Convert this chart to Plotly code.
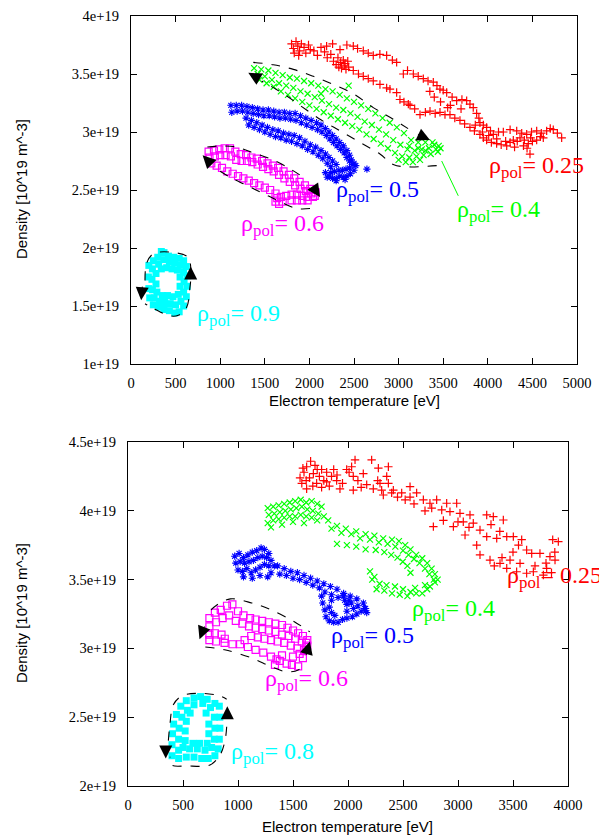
import plotly.graph_objects as go

# ---------------- tick labels ----------------
top_x_ticks = [0, 500, 1000, 1500, 2000, 2500, 3000, 3500, 4000, 4500, 5000]
top_y_tickvals = [1.0, 1.5, 2.0, 2.5, 3.0, 3.5, 4.0]
top_y_ticktext = ["1e+19", "1.5e+19", "2e+19", "2.5e+19", "3e+19", "3.5e+19", "4e+19"]
bot_x_ticks = [0, 500, 1000, 1500, 2000, 2500, 3000, 3500, 4000]
bot_y_tickvals = [2.0, 2.5, 3.0, 3.5, 4.0, 4.5]
bot_y_ticktext = ["2e+19", "2.5e+19", "3e+19", "3.5e+19", "4e+19", "4.5e+19"]

# ---------------- TOP PANEL data: (Te [eV], n [1e19 m^-3]) ----------------
top_red = [
    (1800, 3.76), (1820, 3.72), (1850, 3.78), (1870, 3.74), (1890, 3.70), (1910, 3.76), (1940, 3.73),
    (1960, 3.68), (1990, 3.75), (2010, 3.71), (1830, 3.68), (1880, 3.66), (2050, 3.70), (2090, 3.66),
    (2130, 3.73), (2170, 3.69), (2200, 3.64), (2240, 3.67), (2270, 3.61), (2300, 3.58), (2330, 3.56),
    (2360, 3.55), (2390, 3.57), (2410, 3.54), (2440, 3.56), (2350, 3.60), (2380, 3.62), (2400, 3.59),
    (2430, 3.61), (2320, 3.64),
    (2193, 3.74), (2260, 3.76), (2343, 3.71), (2420, 3.75), (2492, 3.74), (2540, 3.72), (2604, 3.70),
    (2660, 3.68), (2716, 3.66), (2790, 3.67), (2866, 3.66), (2930, 3.62), (2978, 3.60), (3053, 3.50),
    (3100, 3.53), (3165, 3.50), (3220, 3.48), (3277, 3.46), (3330, 3.44), (3389, 3.43), (3430, 3.40),
    (3464, 3.37), (3500, 3.36), (3539, 3.34), (3600, 3.30), (3651, 3.27), (3710, 3.28), (3763, 3.27),
    (3800, 3.24), (3837, 3.21), (3875, 3.16), (3900, 3.12), (3912, 3.08), (3950, 3.06), (3987, 3.04),
    (4030, 3.01), (4062, 2.98), (4120, 3.00), (4174, 3.00), (4250, 3.02), (4324, 3.01), (4380, 2.99),
    (4436, 2.98), (4490, 3.00), (4548, 3.01), (4600, 2.99), (4660, 3.01), (4700, 3.03), (4734, 3.02),
    (4780, 2.99), (4828, 2.95),
    (2492, 3.53), (2550, 3.50), (2604, 3.48), (2660, 3.46), (2716, 3.44), (2791, 3.41), (2866, 3.38),
    (2903, 3.37), (2978, 3.34), (3015, 3.28), (3060, 3.26), (3109, 3.24), (3128, 3.23), (3180, 3.20),
    (3240, 3.15), (3300, 3.17), (3352, 3.18), (3410, 3.16), (3464, 3.17), (3520, 3.15), (3576, 3.15),
    (3630, 3.12), (3688, 3.10), (3740, 3.07), (3800, 3.04), (3850, 3.01), (3912, 2.98), (3950, 2.95),
    (3987, 2.93), (4040, 2.91), (4099, 2.90), (4150, 2.89), (4212, 2.88), (4250, 2.91), (4286, 2.93),
    (4330, 2.92), (4361, 2.95), (4410, 2.93), (4454, 2.90), (4473, 2.81), (4500, 2.92), (4548, 2.93),
    (4590, 2.96), (4622, 2.95), (4300, 2.87), (4400, 2.88), (4200, 2.92), (4100, 2.94), (4480, 2.95),
    (4440, 2.86), (3860, 3.06), (3940, 3.00), (4010, 2.97), (3700, 3.20), (3580, 3.23), (3400, 3.30),
    (3350, 3.35), (3470, 3.26), (3550, 3.21),
]

top_green = [
    (1380, 3.55), (1460, 3.54), (1540, 3.53), (1620, 3.51), (1700, 3.49), (1780, 3.47), (1860, 3.46),
    (1940, 3.44), (2020, 3.42), (2100, 3.40), (2180, 3.37), (2260, 3.35), (2340, 3.32), (2420, 3.29),
    (2500, 3.26), (2580, 3.23), (2660, 3.20), (2740, 3.16), (2820, 3.12), (2900, 3.08), (2980, 3.04),
    (3060, 2.99), (3140, 2.93), (3220, 2.91), (3300, 2.91), (3380, 2.91), (3450, 2.88),
    (1420, 3.50), (1500, 3.48), (1580, 3.45), (1660, 3.42), (1740, 3.40), (1820, 3.38), (1900, 3.35),
    (1980, 3.33), (2060, 3.30), (2140, 3.27), (2220, 3.24), (2300, 3.21), (2380, 3.19), (2460, 3.16),
    (2540, 3.13), (2620, 3.09), (2700, 3.06), (2780, 3.02), (2860, 2.98), (2940, 2.93), (3020, 2.89),
    (3100, 2.85), (3180, 2.84), (3260, 2.85), (3340, 2.86), (3420, 2.85),
    (1440, 3.45), (1520, 3.42), (1600, 3.39), (1680, 3.35), (1760, 3.32), (1840, 3.29), (1920, 3.26),
    (2000, 3.23), (2080, 3.20), (2160, 3.17), (2240, 3.14), (2320, 3.11), (2400, 3.08), (2480, 3.05),
    (2560, 3.02), (2640, 2.98), (2720, 2.94), (2800, 2.90), (2880, 2.86), (2960, 2.82), (3040, 2.79),
    (3120, 2.78), (3200, 2.79), (3280, 2.80), (3360, 2.81), (3440, 2.83),
    (2440, 3.40), (2130, 3.33), (3470, 2.86), (3000, 2.76), (3080, 2.74), (3160, 2.74), (3240, 2.76),
    (3300, 2.84), (3400, 2.89), (3120, 2.88), (3220, 2.86),
]

top_blue = [
    (1120, 3.23), (1180, 3.23), (1240, 3.23), (1300, 3.22), (1360, 3.21), (1420, 3.20), (1480, 3.19),
    (1540, 3.19), (1600, 3.18), (1660, 3.17), (1720, 3.17), (1780, 3.16), (1840, 3.16), (1900, 3.14),
    (1960, 3.12), (2020, 3.10), (2080, 3.08), (2130, 3.06), (2180, 3.03), (2220, 3.00), (2260, 2.97),
    (2300, 2.94), (2340, 2.91), (2380, 2.88), (2420, 2.84), (2450, 2.80), (2470, 2.76), (2500, 2.73),
    (1130, 3.17), (1190, 3.18), (1250, 3.18), (1310, 3.17), (1370, 3.16), (1430, 3.15), (1490, 3.14),
    (1550, 3.14), (1610, 3.13), (1670, 3.12), (1730, 3.12), (1790, 3.11), (1850, 3.10), (1910, 3.08),
    (1970, 3.06), (2030, 3.04), (2090, 3.02), (2140, 3.00), (2190, 2.97), (2230, 2.94), (2270, 2.91),
    (2310, 2.88), (2350, 2.85), (2390, 2.82), (2420, 2.78), (2450, 2.75),
    (1290, 3.12), (1350, 3.10), (1410, 3.08), (1470, 3.06), (1530, 3.04), (1590, 3.02), (1650, 3.01),
    (1710, 2.99), (1770, 2.98), (1830, 2.97), (1890, 2.95), (1950, 2.92), (2010, 2.89), (2070, 2.87),
    (2130, 2.84), (2180, 2.81), (2220, 2.78), (2260, 2.75), (2300, 2.72),
    (1320, 3.06), (1380, 3.04), (1440, 3.02), (1500, 3.00), (1560, 2.98), (1620, 2.96), (1680, 2.95),
    (1740, 2.93), (1800, 2.92), (1860, 2.90), (1920, 2.88), (1980, 2.85), (2040, 2.83), (2100, 2.80),
    (2150, 2.77), (2200, 2.73), (2240, 2.70),
    (2180, 2.65), (2220, 2.62), (2260, 2.60), (2300, 2.60), (2340, 2.62), (2380, 2.61), (2420, 2.62),
    (2460, 2.64), (2500, 2.67), (2520, 2.71), (2280, 2.66), (2330, 2.67), (2370, 2.67), (2410, 2.68),
    (2450, 2.69), (2480, 2.72), (2240, 2.65), (2200, 2.61), (2300, 2.58), (2400, 2.59), (2645, 2.68),
]

top_magenta = [
    (870, 2.83), (930, 2.84), (990, 2.85), (1050, 2.86), (1110, 2.86), (1170, 2.83), (1230, 2.81),
    (1290, 2.80), (1350, 2.78), (1410, 2.77), (1470, 2.75), (1530, 2.73), (1590, 2.71), (1650, 2.69),
    (1710, 2.66), (1770, 2.63), (1830, 2.60), (1890, 2.57), (1950, 2.54), (2010, 2.51), (2070, 2.48),
    (880, 2.78), (940, 2.79), (1000, 2.80), (1060, 2.80), (1120, 2.79), (1180, 2.76), (1240, 2.75),
    (1300, 2.75), (1360, 2.74), (1420, 2.72), (1480, 2.70), (1540, 2.68), (1600, 2.66), (1660, 2.63),
    (1720, 2.60), (1780, 2.57), (1840, 2.54), (1900, 2.51), (1960, 2.49), (2020, 2.47),
    (900, 2.73), (960, 2.71), (1020, 2.69), (1080, 2.66), (1140, 2.64), (1200, 2.62), (1260, 2.60),
    (1320, 2.58), (1380, 2.56), (1440, 2.54), (1500, 2.52), (1560, 2.50), (1620, 2.47), (1680, 2.44),
    (1740, 2.45), (1800, 2.46), (1860, 2.46), (1920, 2.45), (1980, 2.44), (2040, 2.44),
    (1620, 2.40), (1660, 2.38), (1700, 2.40), (1640, 2.43), (1800, 2.41), (1860, 2.41), (1920, 2.41),
    (1980, 2.41), (2060, 2.45),
]

top_cyan = [
    (200, 1.85), (195, 1.75), (200, 1.65), (210, 1.57), (250, 1.51), (310, 1.49), (370, 1.47),
    (430, 1.46), (490, 1.44), (540, 1.45), (590, 1.50), (620, 1.58), (630, 1.67), (630, 1.76),
    (620, 1.84), (590, 1.89), (540, 1.91), (480, 1.92), (420, 1.93), (370, 1.96), (340, 1.97),
    (300, 1.92), (250, 1.89),
    (240, 1.82), (235, 1.73), (240, 1.64), (260, 1.57), (320, 1.54), (380, 1.53), (440, 1.52),
    (500, 1.51), (560, 1.54), (590, 1.62), (595, 1.71), (590, 1.79), (550, 1.85), (490, 1.87),
    (430, 1.88), (370, 1.90), (310, 1.86),
    (280, 1.78), (280, 1.69), (290, 1.62), (350, 1.59), (410, 1.59), (470, 1.58), (530, 1.60),
    (550, 1.67), (550, 1.75), (520, 1.81), (460, 1.82), (400, 1.83), (340, 1.82),
]

# dashed guide loops (top)
top_green_loop_upper = [(1371, 3.60), (1595, 3.58), (1820, 3.54), (2044, 3.48), (2268, 3.41),
                        (2492, 3.33), (2716, 3.21), (2940, 3.11), (3165, 3.00)]
top_green_loop_lower = [(3427, 2.71), (3090, 2.70), (2940, 2.72), (2791, 2.81), (2567, 2.91),
                        (2343, 3.01), (2119, 3.11), (1894, 3.23), (1708, 3.33), (1465, 3.44)]
top_magenta_loop_upper = [(856, 2.87), (998, 2.88), (1185, 2.87), (1371, 2.82), (1558, 2.77),
                          (1745, 2.70), (1932, 2.61)]
top_magenta_loop_lower = [(2007, 2.34), (1857, 2.34), (1670, 2.40), (1483, 2.47), (1297, 2.54),
                          (1110, 2.61), (923, 2.70)]
top_cyan_loop = [(157, 1.72), (176, 1.87), (250, 1.95), (437, 1.965), (642, 1.92), (669, 1.84),
                 (669, 1.72), (661, 1.66), (624, 1.49), (530, 1.42), (437, 1.415), (250, 1.48),
                 (157, 1.52)]
top_arrows = [  # (tail Te, tail n, tip Te, tip n)
    (3200, 2.985, 3352, 2.93),
    (1420, 3.465, 1315, 3.51),
    (2040, 2.53, 2119, 2.44),
    (880, 2.74, 803, 2.80),
    (669, 1.74, 669, 1.84),
    (128, 1.68, 114, 1.55),
]
top_green_leader = [(3483, 2.75), (3669, 2.45)]

# ---------------- BOTTOM PANEL data ----------------
bot_red = [
    (1564, 4.24), (1580, 4.20), (1600, 4.28), (1624, 4.32), (1624, 4.16), (1650, 4.24), (1685, 4.27),
    (1700, 4.33), (1715, 4.20), (1740, 4.25), (1760, 4.30), (1780, 4.22), (1806, 4.28), (1806, 4.21),
    (1830, 4.18), (1590, 4.31), (1660, 4.36), (1720, 4.30), (1620, 4.22), (1680, 4.18), (1850, 4.25),
    (1870, 4.30), (1897, 4.22), (1927, 4.16), (1950, 4.20), (1988, 4.30), (2010, 4.28), (2033, 4.32),
    (2048, 4.25), (2048, 4.15), (2064, 4.37), (2090, 4.22), (2139, 4.27), (2170, 4.19), (2215, 4.37),
    (2230, 4.16), (2291, 4.20), (2306, 4.15), (2276, 4.31), (2352, 4.25), (2367, 4.32), (2367, 4.20),
    (2397, 4.13), (2321, 4.115), (2412, 4.15), (2488, 4.13), (2564, 4.175), (2564, 4.10), (2624, 4.13),
    (2685, 4.08), (2745, 4.055), (2806, 4.08), (2761, 4.02), (2852, 4.006), (2897, 4.055), (2927, 3.994),
    (2988, 4.055), (3018, 3.982), (3109, 3.97), (3048, 3.92), (2867, 3.93), (2776, 3.885), (2958, 3.885),
    (3139, 3.91), (3200, 3.86), (3261, 3.97), (3321, 3.957), (3412, 3.933), (3261, 3.812), (3352, 3.80),
    (3443, 3.812), (3503, 3.812), (3579, 3.79), (3064, 3.824), (3170, 3.75), (3200, 3.68), (3291, 3.642),
    (3382, 3.618), (3443, 3.582), (3473, 3.642), (3564, 3.618), (3533, 3.557), (3624, 3.546),
    (3685, 3.557), (3776, 3.533), (3806, 3.582), (3836, 3.667), (3882, 3.642), (3861, 3.79),
    (3912, 3.776), (3745, 3.69), (3624, 3.715), (3670, 3.69),
    (2450, 4.10), (2520, 4.08), (2600, 4.05), (2700, 4.00), (3000, 3.92), (3100, 3.88), (3300, 3.90),
    (3380, 3.85), (3500, 3.70), (3700, 3.60), (3800, 3.62), (3850, 3.55), (3880, 3.70), (3400, 3.66),
    (3330, 3.60), (3550, 3.75), (1900, 4.26), (1760, 4.17), (2120, 4.17), (2270, 4.22),
]

bot_green = [
    (1270, 4.02), (1320, 4.03), (1370, 4.04), (1420, 4.05), (1470, 4.06), (1520, 4.07), (1570, 4.08),
    (1620, 4.06), (1670, 4.07), (1720, 4.05), (1760, 4.03),
    (1280, 3.97), (1330, 3.98), (1380, 3.99), (1430, 4.00), (1480, 4.01), (1530, 4.02), (1580, 4.03),
    (1630, 4.01), (1680, 4.00), (1730, 3.98), (1780, 3.96),
    (1270, 3.91), (1320, 3.93), (1370, 3.94), (1420, 3.95), (1470, 3.96), (1520, 3.96), (1570, 3.97),
    (1620, 3.96), (1670, 3.95), (1720, 3.93),
    (1300, 3.88), (1400, 3.90), (1500, 3.92), (1600, 3.91),
    (1820, 3.93), (1900, 3.89), (1980, 3.87), (2075, 3.85), (2160, 3.83), (2240, 3.82), (2320, 3.80),
    (2400, 3.79), (2463, 3.78), (2520, 3.75), (2568, 3.72), (2620, 3.68), (2675, 3.655), (2720, 3.62),
    (2760, 3.58), (2790, 3.54), (2815, 3.50),
    (1850, 3.87), (1940, 3.84), (2030, 3.83), (2110, 3.80), (2200, 3.79), (2280, 3.77), (2360, 3.76),
    (2430, 3.74), (2500, 3.71), (2550, 3.68), (2600, 3.65), (2650, 3.62), (2700, 3.58), (2740, 3.54),
    (2780, 3.50),
    (1900, 3.76), (1990, 3.75), (2075, 3.74), (2160, 3.72), (2252, 3.715), (2330, 3.70), (2393, 3.68),
    (2450, 3.66), (2498, 3.63), (2540, 3.60), (2568, 3.55),
    (2200, 3.56), (2240, 3.52), (2287, 3.47), (2350, 3.46), (2427, 3.45), (2500, 3.43), (2568, 3.41),
    (2620, 3.40), (2675, 3.40), (2720, 3.43), (2745, 3.45), (2790, 3.48), (2260, 3.43), (2330, 3.42),
    (2400, 3.40), (2470, 3.39), (2540, 3.38), (2610, 3.44), (2700, 3.46), (2220, 3.50),
]

bot_blue = [
    (970, 3.67), (1010, 3.69), (1050, 3.66), (1090, 3.68), (1130, 3.70), (1170, 3.71), (1210, 3.73),
    (1240, 3.72), (1280, 3.69),
    (980, 3.62), (1020, 3.63), (1060, 3.62), (1100, 3.63), (1140, 3.64), (1180, 3.66), (1220, 3.67),
    (1260, 3.66), (1300, 3.64),
    (1000, 3.57), (1040, 3.56), (1080, 3.58), (1120, 3.55), (1160, 3.57), (1200, 3.59), (1240, 3.61),
    (1280, 3.60), (1330, 3.60),
    (1050, 3.52), (1130, 3.51), (1200, 3.53), (1270, 3.52), (1300, 3.55),
    (1360, 3.60), (1420, 3.58), (1480, 3.56), (1540, 3.55), (1600, 3.53), (1660, 3.51), (1720, 3.49),
    (1780, 3.47), (1840, 3.45), (1900, 3.43), (1960, 3.40), (2020, 3.38), (2080, 3.36), (2140, 3.33),
    (1380, 3.54), (1440, 3.53), (1500, 3.51), (1560, 3.50), (1620, 3.48), (1680, 3.46), (1740, 3.44),
    (1790, 3.41), (1850, 3.39), (1910, 3.37), (1970, 3.35), (2030, 3.33), (2090, 3.31), (2150, 3.29),
    (1760, 3.38), (1770, 3.33), (1790, 3.28), (1800, 3.23), (1830, 3.20), (1870, 3.19), (1910, 3.19),
    (1950, 3.21), (1990, 3.22), (2040, 3.23), (2080, 3.25), (2120, 3.27), (2160, 3.29), (2170, 3.26),
    (1850, 3.26), (1880, 3.24), (1990, 3.27), (2050, 3.29), (1830, 3.30), (1850, 3.35), (1990, 3.32),
    (2010, 3.35), (1960, 3.38),
]

bot_magenta = [
    (740, 3.22), (790, 3.26), (843, 3.28), (900, 3.31), (949, 3.32), (1000, 3.27), (1050, 3.24),
    (1110, 3.22), (1160, 3.21), (1220, 3.20), (1280, 3.19), (1340, 3.18), (1400, 3.17), (1450, 3.15),
    (1500, 3.13), (1547, 3.11), (1590, 3.09), (1630, 3.06),
    (740, 3.16), (800, 3.19), (860, 3.22), (920, 3.24), (980, 3.20), (1040, 3.18), (1100, 3.16),
    (1160, 3.15), (1220, 3.14), (1280, 3.13), (1340, 3.12), (1400, 3.10), (1460, 3.09), (1520, 3.07),
    (1580, 3.05), (1630, 3.02),
    (740, 3.10), (790, 3.11), (850, 3.10), (1120, 3.09), (1180, 3.08), (1240, 3.07), (1300, 3.06),
    (1360, 3.05), (1420, 3.04), (1480, 3.02), (1540, 3.00), (1600, 2.99),
    (740, 3.06), (800, 3.05), (878, 3.04), (950, 3.03), (1019, 3.03), (1090, 3.01), (1160, 2.99),
    (1230, 2.97), (1300, 2.94), (1336, 2.88), (1380, 2.91), (1442, 2.89), (1490, 2.88), (1547, 2.87),
    (1590, 2.93), (1618, 2.99),
    (1350, 2.92), (1400, 2.95), (1500, 2.94), (1560, 2.96), (1620, 3.04), (880, 3.07), (1060, 3.06),
]

bot_cyan = [
    (400, 2.22), (400, 2.30), (405, 2.38), (415, 2.45), (440, 2.52), (480, 2.58), (530, 2.62),
    (600, 2.64), (660, 2.65), (720, 2.63), (790, 2.60), (830, 2.58), (835, 2.50), (835, 2.42),
    (830, 2.34), (820, 2.27), (790, 2.22), (730, 2.20), (670, 2.20), (600, 2.21), (530, 2.21),
    (460, 2.20),
    (460, 2.26), (460, 2.34), (465, 2.42), (490, 2.50), (540, 2.55), (600, 2.59), (680, 2.60),
    (750, 2.57), (785, 2.50), (790, 2.42), (785, 2.34), (760, 2.28), (700, 2.26), (630, 2.27),
    (560, 2.27), (500, 2.28),
    (520, 2.33), (520, 2.40), (530, 2.47), (565, 2.53), (710, 2.53), (735, 2.45), (735, 2.38),
    (720, 2.31), (650, 2.31), (590, 2.31),
]

bot_magenta_loop_upper = [(755, 3.28), (808, 3.316), (931, 3.36), (1125, 3.33), (1301, 3.28),
                          (1512, 3.194), (1653, 3.12)]
bot_magenta_loop_lower = [(703, 3.01), (878, 2.99), (1125, 2.93), (1301, 2.867), (1442, 2.83),
                          (1547, 2.843), (1600, 2.89)]
bot_cyan_loop_upper = [(367, 2.33), (382, 2.456), (412, 2.59), (488, 2.654), (655, 2.674),
                       (836, 2.654), (897, 2.63)]
bot_cyan_loop_lower = [(897, 2.43), (882, 2.33), (836, 2.225), (745, 2.153), (533, 2.146),
                       (397, 2.153), (382, 2.213)]
bot_arrows = [
    (1615, 2.94, 1653, 3.05),
    (700, 3.17, 650, 3.066),
    (903, 2.48, 903, 2.58),
    (343, 2.29, 343, 2.20),
]

labels_top = [  # (Te, n, value text, color)
    (3991, 2.70, "0.25", "#ff0000"),
    (3632, 2.315, "0.4", "#00ff00"),
    (2276, 2.495, "0.5", "#0000ff"),
    (1211, 2.195, "0.6", "#ff00ff"),
    (717, 1.42, "0.9", "#00ffff"),
]
labels_bot = [
    (3431, 3.52, "0.25", "#ff0000"),
    (2568, 3.28, "0.4", "#00ff00"),
    (1828, 3.08, "0.5", "#0000ff"),
    (1228, 2.77, "0.6", "#ff00ff"),
    (914, 2.24, "0.8", "#00ffff"),
]

# ---------------- figure ----------------
fig = go.Figure()

def add_cloud(pts, xa, ya, symbol, color, size, lw):
    fig.add_trace(go.Scatter(
        x=[p[0] for p in pts], y=[p[1] for p in pts], mode="markers",
        xaxis=xa, yaxis=ya, showlegend=False, hoverinfo="skip",
        marker=dict(symbol=symbol, color=color, size=size,
                    line=dict(color=color, width=lw))))

def add_dashed(pts, xa, ya, color="black", dash="dash", width=1.1):
    fig.add_trace(go.Scatter(
        x=[p[0] for p in pts], y=[p[1] for p in pts], mode="lines",
        xaxis=xa, yaxis=ya, showlegend=False, hoverinfo="skip",
        line=dict(color=color, width=width, dash=dash, shape="spline")))

# top panel
add_cloud(top_red, "x", "y", "cross-thin-open", "#ff0000", 6, 1.2)
add_cloud(top_green, "x", "y", "x-thin-open", "#00ff00", 6, 1.2)
add_cloud(top_blue, "x", "y", "asterisk-open", "#0000ff", 6, 1.1)
add_cloud(top_magenta, "x", "y", "square-open", "#ff00ff", 7, 1.2)
add_cloud(top_cyan, "x", "y", "square", "#00ffff", 7, 0)
add_dashed(top_green_loop_upper, "x", "y")
add_dashed(top_green_loop_lower, "x", "y")
add_dashed(top_magenta_loop_upper, "x", "y")
add_dashed(top_magenta_loop_lower, "x", "y")
add_dashed(top_cyan_loop, "x", "y")
add_dashed(top_green_leader, "x", "y", color="#00ff00", dash="solid", width=1)

# bottom panel
add_cloud(bot_red, "x2", "y2", "cross-thin-open", "#ff0000", 6, 1.2)
add_cloud(bot_green, "x2", "y2", "x-thin-open", "#00ff00", 6, 1.2)
add_cloud(bot_blue, "x2", "y2", "asterisk-open", "#0000ff", 6, 1.1)
add_cloud(bot_magenta, "x2", "y2", "square-open", "#ff00ff", 7, 1.2)
add_cloud(bot_cyan, "x2", "y2", "square", "#00ffff", 7, 0)
add_dashed(bot_magenta_loop_upper, "x2", "y2")
add_dashed(bot_magenta_loop_lower, "x2", "y2")
add_dashed(bot_cyan_loop_upper, "x2", "y2")
add_dashed(bot_cyan_loop_lower, "x2", "y2")

annotations = []
for (tx, ty, hx, hy) in top_arrows:
    annotations.append(dict(x=hx, y=hy, ax=tx, ay=ty, xref="x", yref="y", axref="x", ayref="y",
                            text="", showarrow=True, arrowhead=2, arrowsize=2.6,
                            arrowwidth=1, arrowcolor="black", standoff=0, startstandoff=0))
for (tx, ty, hx, hy) in bot_arrows:
    annotations.append(dict(x=hx, y=hy, ax=tx, ay=ty, xref="x2", yref="y2", axref="x2", ayref="y2",
                            text="", showarrow=True, arrowhead=2, arrowsize=2.6,
                            arrowwidth=1, arrowcolor="black", standoff=0, startstandoff=0))

lab_font = "Liberation Serif, Times New Roman, serif"
for (tx, ty, val, col) in labels_top:
    annotations.append(dict(x=tx, y=ty, xref="x", yref="y", xanchor="left", yanchor="middle",
                            text="ρ<sub>pol</sub>= " + val, showarrow=False,
                            font=dict(family=lab_font, size=24, color=col)))
for (tx, ty, val, col) in labels_bot:
    annotations.append(dict(x=tx, y=ty, xref="x2", yref="y2", xanchor="left", yanchor="middle",
                            text="ρ<sub>pol</sub>= " + val, showarrow=False,
                            font=dict(family=lab_font, size=24, color=col)))

# The page body adds an 8 px margin; lay out in page pixels minus that offset.
OFF = 8
W, H = 607 - OFF, 836 - OFF

def px(x):
    return (x - OFF) / W

def py(y):
    return 1 - (y - OFF) / H

title_font = dict(family="Liberation Sans, Arial, sans-serif", size=15, color="black")
annotations += [
    dict(x=px(354), y=py(400), xref="paper", yref="paper", text="Electron temperature [eV]",
         showarrow=False, font=title_font, xanchor="center", yanchor="middle"),
    dict(x=px(348), y=py(826), xref="paper", yref="paper", text="Electron temperature [eV]",
         showarrow=False, font=title_font, xanchor="center", yanchor="middle"),
    dict(x=px(22), y=py(189), xref="paper", yref="paper", text="Density [10^19 m^-3]",
         showarrow=False, font=title_font, textangle=-90, xanchor="center", yanchor="middle"),
    dict(x=px(21), y=py(613), xref="paper", yref="paper", text="Density [10^19 m^-3]",
         showarrow=False, font=title_font, textangle=-90, xanchor="center", yanchor="middle"),
]

tick_font = dict(family="Liberation Serif, Times New Roman, serif", size=14.5, color="black")
axis_common = dict(showgrid=False, zeroline=False, showline=True, linecolor="black", linewidth=1.3,
                   ticks="inside", ticklen=6, tickwidth=1, tickcolor="black", mirror="allticks",
                   tickfont=tick_font, automargin=False, ticklabeloverflow="allow")

fig.update_layout(
    width=W, height=H, margin=dict(l=0, r=0, t=0, b=0, autoexpand=False),
    paper_bgcolor="white", plot_bgcolor="white",
    xaxis=dict(domain=[px(131), px(577)], range=[0, 5000], anchor="y", tickmode="array",
               tickvals=top_x_ticks, ticktext=[str(v) for v in top_x_ticks], ticklabelstandoff=5,
               **axis_common),
    yaxis=dict(domain=[py(364), py(16)], range=[1.0, 4.0], anchor="x", tickmode="array",
               tickvals=top_y_tickvals, ticktext=top_y_ticktext, ticklabelstandoff=8, **axis_common),
    xaxis2=dict(domain=[px(128), px(568)], range=[0, 4000], anchor="y2", tickmode="array",
                tickvals=bot_x_ticks, ticktext=[str(v) for v in bot_x_ticks], ticklabelstandoff=5,
                **axis_common),
    yaxis2=dict(domain=[py(786), py(442)], range=[2.0, 4.5], anchor="x2", tickmode="array",
                tickvals=bot_y_tickvals, ticktext=bot_y_ticktext, ticklabelstandoff=8, **axis_common),
    annotations=annotations,
)

fig.write_html("out.html")
